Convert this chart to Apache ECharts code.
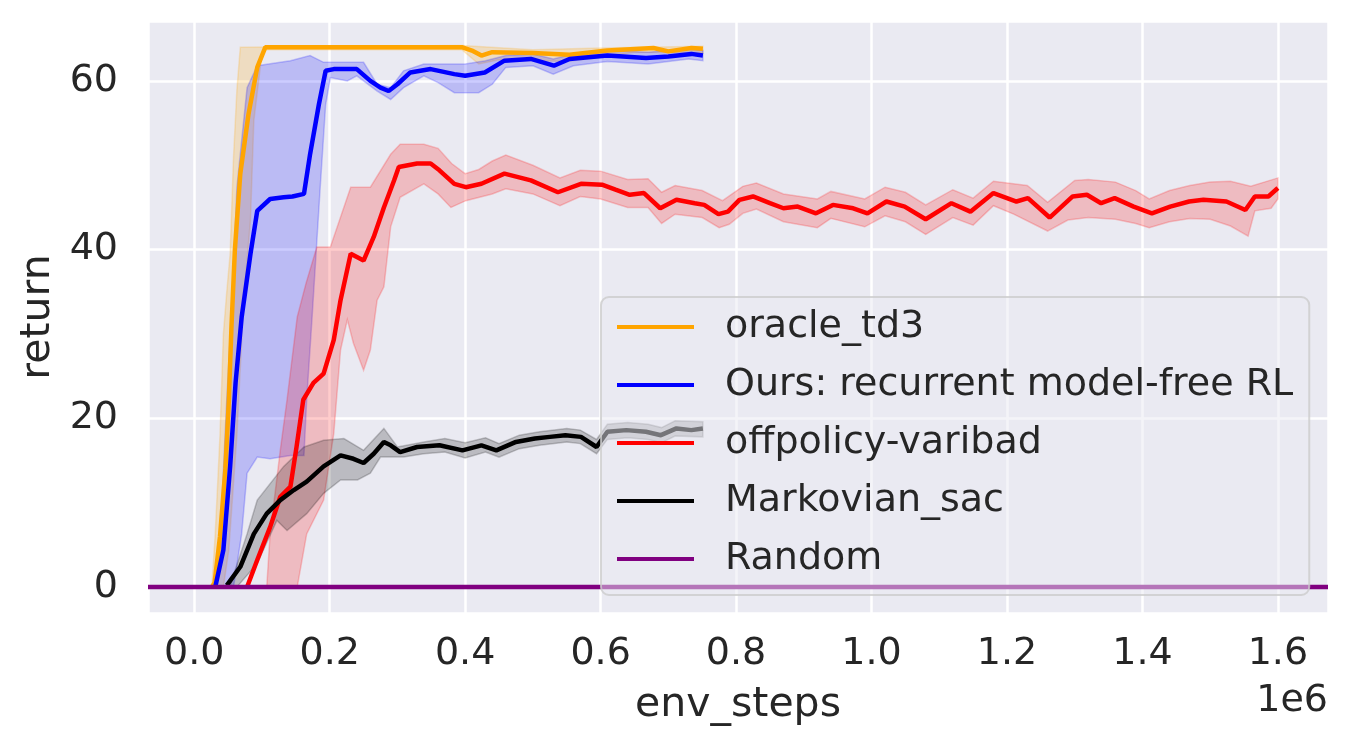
<!DOCTYPE html>
<html>
<head>
<meta charset="utf-8">
<script src="https://cdn.jsdelivr.net/npm/echarts@6/dist/echarts.min.js"></script>
<style>
  html, body { margin: 0; padding: 0; background: #fff; }
  #chart-container { width: 1350px; height: 750px; }
</style>
</head>
<body>
<div id="chart-container"></div>
<script>
// env_steps in units of 1e6, return values
var seriesNames = ["oracle_td3", "Ours: recurrent model-free RL", "offpolicy-varibad", "Markovian_sac", "Random"];
var seriesColors = ["#FFA500", "#0000FF", "#FF0000", "#000000", "#800080"];
var bandColors = ["rgba(255,165,0,0.2)", "rgba(0,0,255,0.2)", "rgba(255,0,0,0.2)", "rgba(0,0,0,0.2)"];

var oracleMean = [[0.026,0],[0.030,0.5],[0.038,6],[0.046,14],[0.051,22],[0.055,31],[0.060,40],[0.068,49],[0.080,56],[0.093,61.6],[0.105,64],[0.2,64],[0.3,64],[0.395,64],[0.41,63.6],[0.424,63.0],[0.44,63.4],[0.5,63.3],[0.554,63.1],[0.61,63.6],[0.678,63.9],[0.70,63.5],[0.734,63.9],[0.751,63.8]];
var oracleUpper = [[0.026,0],[0.031,6.3],[0.038,18],[0.043,30],[0.048,35],[0.053,39.5],[0.058,51],[0.063,59],[0.068,64],[0.395,64.2],[0.5,63.7],[0.6,63.9],[0.751,64.1]];
var oracleLower = [[0.043,0],[0.051,4.4],[0.063,18],[0.073,34],[0.083,43.5],[0.088,55.3],[0.100,63.3],[0.105,63.7],[0.395,63.7],[0.42,62.0],[0.45,62.5],[0.55,62.3],[0.6,62.8],[0.65,63.4],[0.751,63.3]];

var oursMean = [[0.031,0],[0.043,4.4],[0.053,14.3],[0.061,24.2],[0.070,32],[0.083,39.5],[0.093,44.6],[0.112,46],[0.132,46.2],[0.145,46.3],[0.162,46.6],[0.171,51.3],[0.184,57.2],[0.194,61.2],[0.206,61.4],[0.240,61.4],[0.260,60],[0.275,59.2],[0.287,58.8],[0.300,59.6],[0.319,61],[0.349,61.4],[0.384,60.8],[0.40,60.6],[0.429,61.0],[0.458,62.4],[0.497,62.6],[0.531,61.8],[0.554,62.6],[0.61,63.0],[0.667,62.7],[0.70,62.9],[0.734,63.2],[0.751,63.0]];
var oursUpper = [[0.033,0],[0.041,10.3],[0.048,22.2],[0.056,34],[0.063,47.4],[0.078,59.2],[0.093,61.8],[0.142,62.4],[0.171,63],[0.191,62.2],[0.250,62.2],[0.270,59.6],[0.290,59.2],[0.309,61.2],[0.339,62],[0.36,62.0],[0.40,62.0],[0.43,62.4],[0.46,63.0],[0.5,63.2],[0.53,62.6],[0.56,63.2],[0.61,63.6],[0.67,63.4],[0.73,63.8],[0.751,63.6]];
var oursLower = [[0.058,0],[0.070,6.3],[0.078,13.5],[0.093,15.4],[0.112,15.2],[0.142,15.6],[0.162,15.6],[0.166,22.2],[0.174,32],[0.186,47.4],[0.194,57.2],[0.201,60.4],[0.226,60],[0.240,60.6],[0.270,58.8],[0.290,57.8],[0.309,59.2],[0.339,60.6],[0.36,59.8],[0.384,58.6],[0.42,58.6],[0.44,59.6],[0.46,61.6],[0.5,61.8],[0.53,60.8],[0.56,61.8],[0.61,62.3],[0.67,62.0],[0.73,62.6],[0.751,62.4]];

var varibadMean = [[0.078,0],[0.093,3.2],[0.112,7.1],[0.127,10.7],[0.142,11.9],[0.151,16.6],[0.161,22.2],[0.176,24.2],[0.191,25.3],[0.206,29.3],[0.216,34],[0.231,39.5],[0.250,38.7],[0.265,41.5],[0.280,45],[0.295,48.2],[0.302,49.8],[0.329,50.2],[0.349,50.2],[0.362,49.4],[0.384,47.8],[0.401,47.4],[0.424,47.8],[0.458,49.0],[0.497,48.2],[0.537,46.8],[0.571,47.8],[0.602,47.7],[0.622,47.1],[0.643,46.5],[0.664,46.7],[0.688,44.9],[0.712,45.9],[0.739,45.5],[0.753,45.3],[0.774,44.2],[0.788,44.5],[0.805,45.9],[0.825,46.3],[0.850,45.5],[0.870,44.9],[0.891,45.1],[0.918,44.3],[0.943,45.3],[0.973,44.9],[0.994,44.3],[1.022,45.7],[1.049,45.1],[1.080,43.6],[1.118,45.5],[1.146,44.5],[1.180,46.7],[1.214,45.7],[1.231,46.1],[1.263,43.8],[1.297,46.3],[1.318,46.5],[1.339,45.5],[1.359,46.1],[1.387,45.1],[1.414,44.3],[1.441,45.1],[1.469,45.7],[1.490,45.9],[1.524,45.7],[1.552,44.7],[1.566,46.3],[1.586,46.3],[1.600,47.3]];
var varibadUpper = [[0.107,0],[0.112,6.3],[0.127,16.2],[0.137,22.2],[0.152,32],[0.165,36],[0.181,40.3],[0.201,40.3],[0.231,47.4],[0.260,47.4],[0.290,51.3],[0.304,52.5],[0.339,52.5],[0.36,52],[0.38,50.2],[0.40,49],[0.42,49.5],[0.44,50.5],[0.46,51.2],[0.50,50],[0.54,48.5],[0.57,49.4],[0.60,49.3],[0.64,48.3],[0.67,48.4],[0.69,46.8],[0.71,47.6],[0.75,47],[0.78,45.8],[0.81,47.5],[0.83,47.9],[0.87,46.6],[0.92,46],[0.94,46.9],[0.99,46],[1.02,47.4],[1.05,46.8],[1.08,45.3],[1.12,47.1],[1.15,46.1],[1.18,48.1],[1.23,47.6],[1.26,45.6],[1.30,48.2],[1.32,48.3],[1.36,48],[1.39,47],[1.41,46],[1.44,47],[1.47,47.6],[1.50,48],[1.53,48.1],[1.56,47.5],[1.58,48],[1.60,48.5]];
var varibadLower = [[0.152,0],[0.166,6.3],[0.191,10.3],[0.206,18.2],[0.216,28.1],[0.226,31.7],[0.235,28.9],[0.250,25.7],[0.260,28.1],[0.270,34],[0.280,35.6],[0.290,42.7],[0.304,46.2],[0.339,47.8],[0.36,46.6],[0.379,45],[0.401,45.8],[0.44,46.6],[0.46,47.2],[0.50,46.6],[0.54,45.2],[0.57,46.3],[0.60,46.0],[0.64,45.0],[0.67,45.0],[0.69,43.1],[0.71,44.2],[0.75,43.8],[0.775,42.6],[0.79,43.0],[0.81,44.3],[0.83,44.8],[0.87,43.3],[0.92,42.6],[0.94,43.7],[0.99,42.7],[1.02,44.0],[1.05,43.3],[1.08,41.8],[1.12,43.8],[1.15,42.9],[1.18,45.2],[1.21,44.2],[1.26,42.2],[1.29,43.5],[1.32,43.8],[1.36,43.6],[1.39,43.1],[1.41,42.6],[1.44,43.3],[1.47,43.7],[1.50,43.6],[1.53,42.8],[1.556,41.6],[1.566,44.6],[1.59,44.9],[1.60,46]];

var sacMean = [[0.048,0.2],[0.068,2.4],[0.088,6.3],[0.107,8.7],[0.127,10.3],[0.147,11.5],[0.166,12.5],[0.191,14.3],[0.216,15.6],[0.235,15.2],[0.250,14.7],[0.265,15.8],[0.280,17.2],[0.290,16.8],[0.304,16.0],[0.329,16.6],[0.362,16.8],[0.396,16.2],[0.424,16.8],[0.446,16.2],[0.475,17.2],[0.503,17.6],[0.525,17.8],[0.548,18.0],[0.571,17.8],[0.594,16.6],[0.610,18.4],[0.638,18.6],[0.667,18.4],[0.689,18.0],[0.712,18.8],[0.734,18.6],[0.751,18.8]];
var sacUpper = [[0.053,0.2],[0.078,6.3],[0.093,10.3],[0.132,14.3],[0.162,16.6],[0.191,17.4],[0.221,17.6],[0.250,16.2],[0.280,18.8],[0.300,16.6],[0.339,17.2],[0.37,17.6],[0.40,17.1],[0.43,17.7],[0.45,17.0],[0.48,18.0],[0.51,18.4],[0.55,18.8],[0.57,18.6],[0.594,17.5],[0.61,19.3],[0.64,19.5],[0.67,19.3],[0.69,18.9],[0.71,19.7],[0.751,19.6]];
var sacLower = [[0.063,0],[0.093,2.8],[0.122,7.9],[0.137,6.7],[0.166,8.7],[0.191,11.1],[0.216,12.7],[0.241,12.7],[0.260,13.5],[0.275,15.4],[0.309,15.4],[0.339,15.8],[0.37,16.0],[0.40,15.3],[0.43,16.0],[0.45,15.4],[0.48,16.4],[0.51,16.8],[0.55,17.2],[0.57,17.0],[0.594,15.8],[0.61,17.5],[0.64,17.7],[0.67,17.5],[0.69,17.1],[0.71,17.9],[0.751,17.8]];

var randomLine = [[-0.0683,0],[1.674,0]];

var xTicks = [0, 0.2, 0.4, 0.6, 0.8, 1.0, 1.2, 1.4, 1.6];
var yTicks = [0, 20, 40, 60];

var dom = document.getElementById("chart-container");
var myChart = echarts.init(dom, null, { renderer: "canvas" });

function isTick(v, ticks) {
  return ticks.some(function (t) { return Math.abs(v - t) < 1e-6; });
}

// shaded min/max band, drawn through the axis coordinates
function band(upper, lower, color) {
  return {
    type: "custom",
    coordinateSystem: "cartesian2d",
    silent: true,
    z: 1,
    data: [[upper[0][0], upper[0][1]]],
    renderItem: function (params, api) {
      var pts = upper.concat(lower.slice().reverse()).map(function (p) {
        return api.coord(p);
      });
      return {
        type: "polygon",
        shape: { points: pts },
        style: { fill: color, stroke: color, lineWidth: 1.5 },
      };
    },
  };
}

function line(name, data, color) {
  return {
    name: name,
    type: "line",
    data: data,
    symbol: "none",
    showSymbol: false,
    z: 3,
    lineStyle: { color: color, width: 4.5 },
    itemStyle: { color: color },
  };
}

var fontFamily = "DejaVu Sans";

var option = {
  animation: false,
  textStyle: { fontFamily: fontFamily },
  grid: {
    left: 148,
    right: 22,
    top: 21,
    bottom: 137,
    show: true,
    backgroundColor: "#EAEAF2",
    borderWidth: 0,
  },
  xAxis: {
    type: "value",
    min: -0.0683,
    max: 1.674,
    splitNumber: 9,
    name: "env_steps",
    nameLocation: "middle",
    nameGap: 72,
    nameTextStyle: { fontSize: 41, color: "#262626", fontFamily: fontFamily },
    axisLine: { show: false },
    axisTick: { show: false },
    axisLabel: {
      fontSize: 38,
      color: "#262626",
      margin: 22,
      fontFamily: fontFamily,
      formatter: function (v) { return isTick(v, xTicks) ? v.toFixed(1) : ""; },
    },
    splitLine: { lineStyle: { color: "#FFFFFF", width: 2.5 } },
  },
  yAxis: {
    type: "value",
    min: -3.08,
    max: 67.1,
    splitNumber: 4,
    name: "return",
    nameLocation: "middle",
    nameGap: 88,
    nameRotate: 90,
    nameTextStyle: { fontSize: 41, color: "#262626", fontFamily: fontFamily },
    axisLine: { show: false },
    axisTick: { show: false },
    axisLabel: {
      fontSize: 38,
      color: "#262626",
      margin: 30,
      fontFamily: fontFamily,
      formatter: function (v) { return isTick(v, yTicks) ? String(Math.round(v)) : ""; },
    },
    splitLine: { lineStyle: { color: "#FFFFFF", width: 2.5 } },
  },
  legend: {
    orient: "vertical",
    left: 601,
    top: 297,
    data: seriesNames,
    icon: "rect",
    itemWidth: 77,
    itemHeight: 4,
    itemGap: 20,
    padding: [11, 16, 17, 16],
    backgroundColor: "rgba(234,234,242,0.5)",
    borderColor: "rgba(204,204,204,0.8)",
    borderWidth: 2,
    borderRadius: 8,
    textStyle: {
      fontSize: 38,
      lineHeight: 38,
      color: "#262626",
      fontFamily: fontFamily,
      padding: [0, 0, 0, 26],
    },
  },
  graphic: [
    {
      type: "text",
      right: 22,
      top: 682,
      style: { text: "1e6", fontSize: 38, fill: "#262626", fontFamily: fontFamily },
    },
  ],
  series: [
    band(oracleUpper, oracleLower, bandColors[0]),
    band(oursUpper, oursLower, bandColors[1]),
    band(varibadUpper, varibadLower, bandColors[2]),
    band(sacUpper, sacLower, bandColors[3]),
    line(seriesNames[0], oracleMean, seriesColors[0]),
    line(seriesNames[1], oursMean, seriesColors[1]),
    line(seriesNames[2], varibadMean, seriesColors[2]),
    line(seriesNames[3], sacMean, seriesColors[3]),
    line(seriesNames[4], randomLine, seriesColors[4]),
  ],
};

myChart.setOption(option);
window.addEventListener("resize", myChart.resize);
</script>
</body>
</html>
